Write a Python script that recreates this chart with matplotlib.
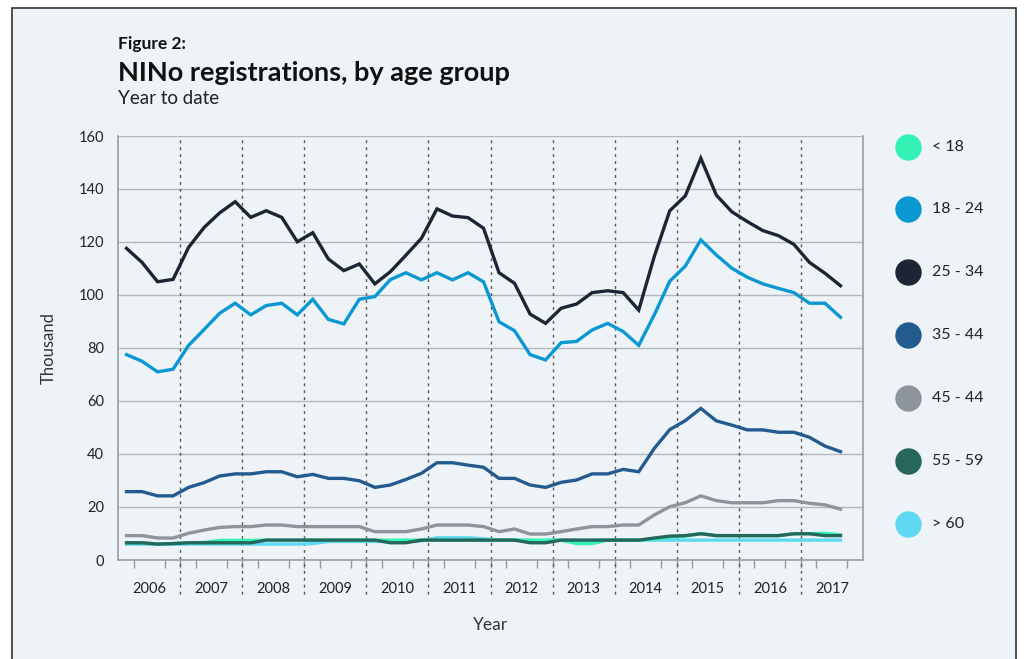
import numpy as np
import matplotlib.pyplot as plt
from matplotlib.lines import Line2D
from matplotlib.patches import Rectangle

plt.rcParams['font.family'] = ['Lato', 'DejaVu Sans']

# Data: quarterly values (thousand), 2006 Q1 .. 2017 Q3
years = [str(y) for y in range(2006, 2018)]
labels = ["< 18", "18 - 24", "25 - 34", "35 - 44", "45 - 44", "55 - 59", "> 60"]
colors = ["#33f2b4", "#0a98d3", "#1c2533", "#245b8e", "#8e949c", "#27665c", "#5fd8f2"]

under18 = [6.5, 6.5, 6.0, 6.2, 6.5, 6.6, 7.4, 7.4, 7.4, 7.5, 7.5, 7.5, 7.5, 7.5, 7.5, 7.5,
           7.5, 7.5, 7.5, 7.5, 7.5, 7.5, 7.5, 7.5, 7.5, 7.5, 7.5, 7.5, 7.5, 6.2, 6.2, 7.5,
           7.5, 7.5, 8.0, 8.6, 9.0, 10.0, 9.2, 9.2, 9.2, 9.2, 9.2, 9.9, 9.9, 10.1, 9.5]
age18_24 = [77.5, 75, 71, 72, 81, 87, 93.1, 96.9, 92.5, 96, 96.9, 92.5, 98.4, 90.8, 89.1, 98.4,
            99.4, 105.8, 108.4, 105.7, 108.4, 105.7, 108.4, 105, 89.9, 86.5, 77.5, 75.5, 82, 82.5,
            86.8, 89.3, 86.2, 81, 92.5, 105.2, 110.9, 120.8, 115.1, 110.1, 106.7, 104.2, 102.5,
            100.9, 96.9, 96.9, 91.6]
age25_34 = [117.6, 112.3, 105, 105.9, 118, 125.5, 131, 135.2, 129.3, 131.8, 129.3, 120.1, 123.5,
            113.6, 109.2, 111.7, 104.2, 108.8, 115, 121.4, 132.5, 129.8, 129.2, 125.2, 108.4, 104.4,
            92.8, 89.3, 95, 96.6, 100.9, 101.6, 100.9, 94.3, 114.5, 131.8, 137.4, 151.6, 137.7,
            131.4, 127.7, 124.3, 122.4, 119.1, 112.3, 108.2, 103.5]
age35_44 = [25.8, 25.8, 24.2, 24.2, 27.4, 29.2, 31.7, 32.5, 32.5, 33.3, 33.3, 31.4, 32.3, 30.8,
            30.8, 29.9, 27.4, 28.3, 30.4, 32.7, 36.7, 36.7, 35.8, 35, 30.8, 30.8, 28.3, 27.4, 29.3,
            30.2, 32.5, 32.5, 34.2, 33.3, 42.1, 49.2, 52.6, 57.2, 52.5, 50.9, 49.1, 49.1, 48.2,
            48.2, 46.3, 43, 40.9]
age45_44 = [9.2, 9.2, 8.3, 8.3, 10.1, 11.3, 12.3, 12.6, 12.6, 13.2, 13.2, 12.6, 12.6, 12.6, 12.6,
            12.6, 10.7, 10.7, 10.7, 11.7, 13.2, 13.2, 13.2, 12.6, 10.7, 11.7, 9.8, 9.8, 10.7, 11.7,
            12.6, 12.6, 13.2, 13.2, 17, 20.1, 21.6, 24.2, 22.4, 21.6, 21.6, 21.6, 22.4, 22.4, 21.4,
            20.8, 19.2]
age55_59 = [6.5, 6.5, 6.0, 6.2, 6.5, 6.5, 6.5, 6.5, 6.5, 7.5, 7.5, 7.5, 7.5, 7.5, 7.5, 7.5,
            7.5, 6.5, 6.5, 7.5, 7.5, 7.5, 7.5, 7.5, 7.5, 7.5, 6.5, 6.5, 7.5, 7.5, 7.5, 7.5,
            7.5, 7.5, 8.3, 9.0, 9.2, 9.9, 9.2, 9.2, 9.2, 9.2, 9.2, 9.9, 9.9, 9.2, 9.2]
over60 = [6.0, 6.0, 6.0, 6.0, 6.0, 6.0, 6.0, 6.0, 6.0, 6.0, 6.0, 6.0, 6.2, 7.0, 7.0, 7.0,
          7.0, 7.0, 7.0, 7.2, 8.4, 8.4, 8.4, 8.0, 7.5, 7.5, 7.3, 7.3, 7.5, 7.5, 7.5, 7.5,
          7.5, 7.5, 7.5, 7.5, 7.5, 7.5, 7.5, 7.5, 7.5, 7.5, 7.5, 7.5, 7.5, 7.5, 7.5]

series = [under18, age18_24, age25_34, age35_44, age45_44, age55_59, over60]
zorders = [4, 9, 10, 8, 7, 5, 3]

bg = "#eef3f7"
fig = plt.figure(figsize=(10.24, 6.59), dpi=100, facecolor="white")
fig.add_artist(Rectangle((12 / 1024, -0.05), (1016 - 12) / 1024, 1.05 - 8 / 659,
                         transform=fig.transFigure, facecolor=bg, edgecolor="#333333",
                         lw=1.2, zorder=-10))

ax = fig.add_axes([118 / 1024, 1 - 560 / 659, 745 / 1024, 424 / 659])
ax.set_facecolor(bg)

n = len(age25_34)
xs = np.arange(n) + 0.55
for vals, c, z in zip(series, colors, zorders):
    ax.plot(xs, vals, color=c, lw=2.4, zorder=z, solid_joinstyle="miter")

ax.set_xlim(0, 48)
ax.set_ylim(0, 160)
ax.set_yticks(range(0, 161, 20))
ax.grid(axis="y", color="#b4b8bc", lw=1)
ax.set_axisbelow(True)

# year separators
ax.vlines(np.arange(4, 48, 4), -13, 160, colors="#555555", lw=1,
          linestyles=(0, (2, 3)), clip_on=False, zorder=1)

ax.set_xticks(np.arange(2, 48, 4))
ax.set_xticklabels(years)
ax.set_xticks(np.arange(1, 48), minor=True)
ax.tick_params(axis="x", which="major", length=0, pad=16, labelsize=10.5, labelcolor="#222222")
ax.tick_params(axis="x", which="minor", length=6, color="#999999", width=1)
ax.tick_params(axis="y", length=0, pad=10, labelsize=10.5, labelcolor="#222222")

for s in ["left", "right", "bottom"]:
    ax.spines[s].set_color("#9a9ea3")
    ax.spines[s].set_linewidth(1.2)
ax.spines["top"].set_visible(False)

ax.set_ylabel("Thousand", fontsize=12, color="#333333")
ax.yaxis.set_label_coords(-0.082, 0.5)
ax.set_xlabel("Year", fontsize=12.5, color="#333333")
ax.xaxis.set_label_coords(0.5, -0.135)

fig.text(118 / 1024, 1 - 44 / 659, "Figure 2:", fontsize=12.5, fontweight="bold",
         va="center", color="#111111")
fig.text(118 / 1024, 1 - 73 / 659, "NINo registrations, by age group", fontsize=19.5,
         fontweight="bold", va="center", color="#111111")
fig.text(118 / 1024, 1 - 99 / 659, "Year to date", fontsize=13.5, va="center", color="#222222")

# legend
leg_y = [147, 209, 272, 335, 398, 461, 524]
for lab, c, y in zip(labels, colors, leg_y):
    fig.add_artist(Line2D([908 / 1024], [1 - y / 659], marker="o", markersize=18, ls="",
                          color=c, transform=fig.transFigure))
    fig.text(932 / 1024, 1 - y / 659, lab, fontsize=11.5, va="center", color="#222222")

fig.savefig("out.png", dpi=100, facecolor="white")
